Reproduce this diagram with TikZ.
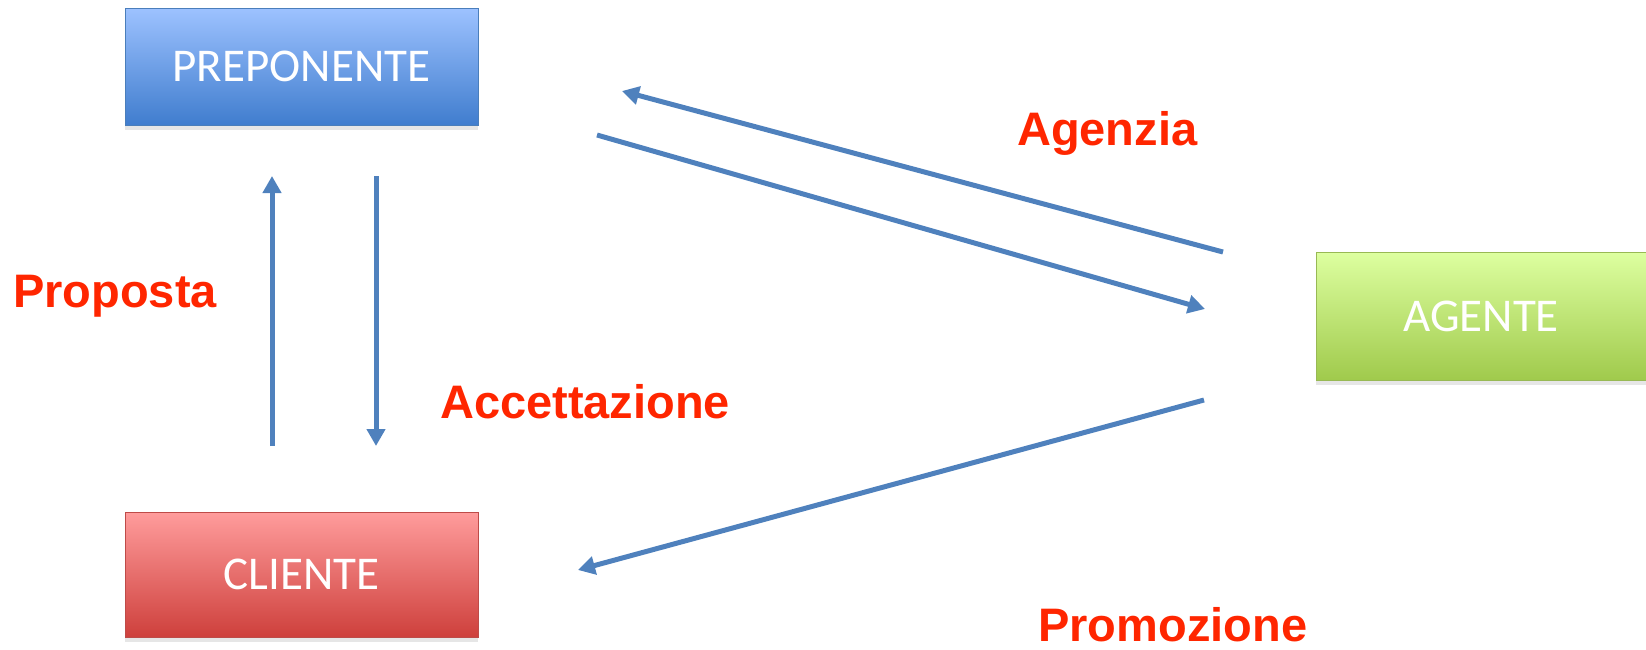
\documentclass[tikz,border=0pt]{standalone}
\usepackage{fontspec}
\setmainfont{Carlito}
\newfontfamily\labfont{Liberation Sans}
\usetikzlibrary{arrows.meta,shadows}
\definecolor{arrowblue}{RGB}{79,129,189}
\definecolor{labred}{RGB}{255,38,0}
\definecolor{bluetop}{RGB}{157,194,255}
\definecolor{bluebot}{RGB}{64,125,206}
\definecolor{blueline}{RGB}{74,126,187}
\definecolor{redtop}{RGB}{255,156,156}
\definecolor{redbot}{RGB}{206,64,60}
\definecolor{redline}{RGB}{190,75,72}
\definecolor{greentop}{RGB}{221,255,160}
\definecolor{greenbot}{RGB}{160,202,76}
\definecolor{greenline}{RGB}{152,185,84}
\tikzset{
  entity/.style={rectangle, draw, line width=1pt, text=white,
    font=\fontsize{47}{56}\selectfont, inner sep=0pt,
    drop shadow={opacity=0.2, shadow xshift=0pt, shadow yshift=-5pt}},
  flow/.style={draw=arrowblue, line width=5pt, -{Triangle[length=17pt,width=18pt]}},
  lab/.style={text=labred, font=\labfont\bfseries\fontsize{47}{56}\selectfont, inner sep=0pt, anchor=base west}
}
\begin{document}
\begin{tikzpicture}[x=1pt,y=-1pt]
\useasboundingbox (0,0) rectangle (1646,649);
\node[entity, draw=blueline, top color=bluetop, bottom color=bluebot,
  minimum width=353pt, minimum height=117pt] (prep) at (301.5,66.5) {PREPONENTE};
\node[entity, draw=redline, top color=redtop, bottom color=redbot,
  minimum width=353pt, minimum height=125pt] (cli) at (301.5,574.5) {CLIENTE};
\node[entity, draw=greenline, top color=greentop, bottom color=greenbot,
  minimum width=330pt, minimum height=128pt] (age) at (1481,316) {AGENTE};

\coordinate (upS) at (272,446);
\coordinate (upE) at (272,176);
\coordinate (dnS) at (376,176);
\coordinate (dnE) at (376,446);
\coordinate (a1S) at (1223,252);
\coordinate (a1E) at (622,91);
\coordinate (a2S) at (597,135);
\coordinate (a2E) at (1205,309);
\coordinate (a3S) at (1204,400);
\coordinate (a3E) at (578,570);

\draw[flow] (upS) -- (upE);
\draw[flow] (dnS) -- (dnE);
\draw[flow] (a1S) -- (a1E);
\draw[flow] (a2S) -- (a2E);
\draw[flow] (a3S) -- (a3E);

\node[lab] (agenzia) at (1017,145) {Agenzia};
\node[lab] (proposta) at (13,307) {Proposta};
\node[lab] (accett) at (440,418) {Accettazione};
\node[lab] (promo) at (1038,641) {Promozione};
\end{tikzpicture}
\end{document}
